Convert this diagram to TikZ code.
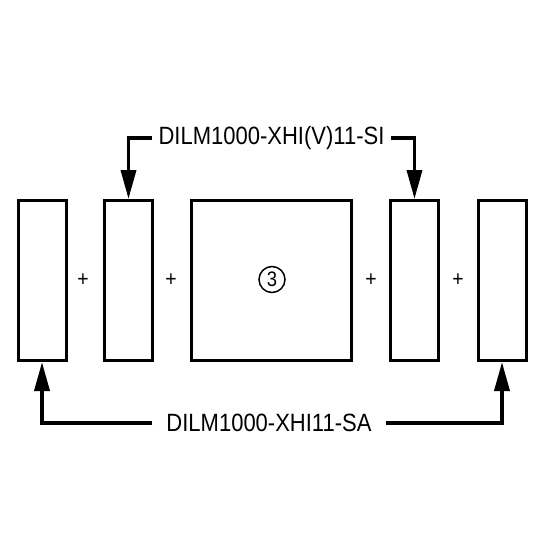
\documentclass[tikz,border=0pt]{standalone}
\usepackage{fontspec}
\setmainfont{Liberation Sans}[FakeStretch=0.88]
\usetikzlibrary{arrows.meta, positioning}

\begin{document}
\begin{tikzpicture}[x=1pt, y=-1pt,
    narrowbox/.style={draw, line width=3pt, minimum width=48pt, minimum height=160pt, inner sep=0pt},
    widebox/.style={draw, line width=3pt, minimum width=160pt, minimum height=160pt, inner sep=0pt},
    partlabel/.style={font=\fontsize{25}{25}\selectfont, inner ysep=2pt},
    link/.style={line width=3.6pt, -{Triangle[length=29pt, width=15pt]}}]
  \useasboundingbox (0,0) rectangle (550,550);

  % modules
  \node[narrowbox] (m1) at (42,280.5) {};
  \node[narrowbox] (m2) at (128.5,280.5) {};
  \node[widebox] (m3) at (271.5,280.5) {};
  \node[narrowbox] (m4) at (414.5,280.5) {};
  \node[narrowbox] (m5) at (502,280.5) {};

  \node[draw, circle, line width=1.5pt, minimum size=26pt, inner sep=0pt, font=\fontsize{21}{21}\selectfont] (c3) at (272,279.5) {3};

  \foreach \x/\n in {83/p1, 171/p2, 371/p3, 458/p4}
    \node[font=\fontsize{22}{22}\selectfont] (\n) at (\x,280) {+};

  % auxiliary contacts
  \node[partlabel, inner xsep=6pt] (si) at (271.5,138) {DILM1000-XHI(V)11-SI};
  \node[partlabel, inner xsep=14pt] (sa) at (269,423) {DILM1000-XHI11-SA};

  \draw[link] (si.west) -| (m2.north);
  \draw[link] (si.east) -| (m4.north);
  \draw[link] (sa.west) -| (m1.south);
  \draw[link] (sa.east) -| (m5.south);
\end{tikzpicture}
\end{document}
